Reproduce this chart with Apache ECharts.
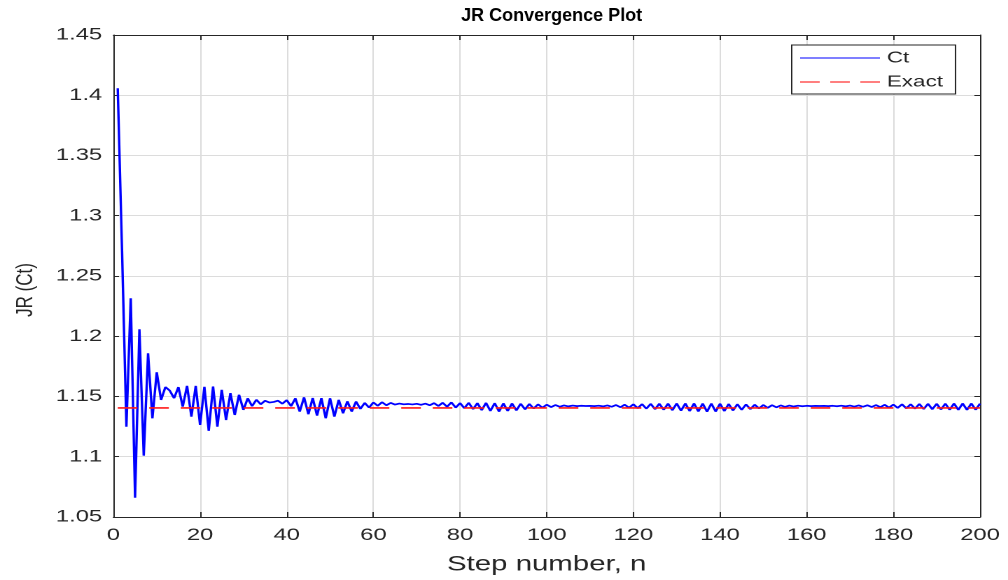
<!DOCTYPE html>
<html>
<head>
<meta charset="utf-8">
<title>JR Convergence Plot</title>
<script src="https://cdn.jsdelivr.net/npm/echarts@6/dist/echarts.min.js"></script>
<style>
  html, body { margin: 0; padding: 0; background: #fff; overflow: hidden; }
  /* the reference is stretched sideways, so the chart is drawn narrower and widened */
  #chart { width: 720px; height: 580px; transform: scaleX(1.4); transform-origin: 0 0; }
</style>
</head>
<body>
<div id="chart"></div>
<script>
const firstStep = 1
const xTicks = { min: 0, max: 200, step: 20 }
const yTicks = { min: 1.05, max: 1.45, step: 0.05 }

// JR (Ct) per step, n = 1..200
const ctValues = [
  1.4058, 1.2700, 1.1249, 1.2315, 1.0660, 1.2058, 1.1009, 1.1859, 1.1319, 1.1701,
  1.1472, 1.1578, 1.1549, 1.1486, 1.1578, 1.1416, 1.1588, 1.1333, 1.1588, 1.1264,
  1.1580, 1.1215, 1.1583, 1.1250, 1.1555, 1.1305, 1.1528, 1.1347, 1.1514, 1.1389,
  1.1485, 1.1420, 1.1473, 1.1435, 1.1465, 1.1450, 1.1455, 1.1465, 1.1440, 1.1470,
  1.1420, 1.1485, 1.1375, 1.1493, 1.1353, 1.1487, 1.1341, 1.1486, 1.1320, 1.1485,
  1.1333, 1.1472, 1.1361, 1.1460, 1.1375, 1.1458, 1.1397, 1.1447, 1.1408, 1.1451,
  1.1423, 1.1453, 1.1427, 1.1447, 1.1433, 1.1441, 1.1435, 1.1438, 1.1434, 1.1439,
  1.1431, 1.1441, 1.1427, 1.1445, 1.1421, 1.1448, 1.1415, 1.1451, 1.1408, 1.1445,
  1.1403, 1.1448, 1.1395, 1.1445, 1.1387, 1.1447, 1.1380, 1.1445, 1.1375, 1.1443,
  1.1380, 1.1442, 1.1385, 1.1440, 1.1393, 1.1438, 1.1400, 1.1435, 1.1407, 1.1432,
  1.1412, 1.1429, 1.1415, 1.1426, 1.1418, 1.1425, 1.1420, 1.1423, 1.1421, 1.1422,
  1.1420, 1.1424, 1.1418, 1.1426, 1.1415, 1.1429, 1.1411, 1.1432, 1.1407, 1.1435,
  1.1403, 1.1437, 1.1399, 1.1439, 1.1395, 1.1440, 1.1390, 1.1441, 1.1386, 1.1442,
  1.1382, 1.1442, 1.1379, 1.1442, 1.1376, 1.1441, 1.1374, 1.1441, 1.1375, 1.1440,
  1.1379, 1.1438, 1.1384, 1.1436, 1.1389, 1.1434, 1.1395, 1.1432, 1.1401, 1.1430,
  1.1406, 1.1428, 1.1410, 1.1426, 1.1414, 1.1425, 1.1417, 1.1424, 1.1419, 1.1423,
  1.1420, 1.1422, 1.1421, 1.1422, 1.1420, 1.1423, 1.1419, 1.1424, 1.1418, 1.1425,
  1.1416, 1.1426, 1.1415, 1.1427, 1.1413, 1.1429, 1.1411, 1.1431, 1.1408, 1.1433,
  1.1405, 1.1435, 1.1402, 1.1436, 1.1399, 1.1438, 1.1396, 1.1439, 1.1394, 1.1440,
  1.1392, 1.1441, 1.1390, 1.1442, 1.1389, 1.1442, 1.1389, 1.1442, 1.1390, 1.1441
]

// exact reference value, drawn across the same steps
const exactSteps = [1, 200]
const exactValues = [1.1405, 1.1405]

const stretch = 1.4
const font = 'Liberation Sans, Arial, Helvetica, sans-serif'
const ink = '#262626'

// legend swatches: a solid stroke and three dashes
const solidIcon = 'path://M0,0h57v1h-57z'
const dashIcon = 'path://M0,0h14v1h-14zM21.5,0h14v1h-14zM43,0h14v1h-14z'

const chart = echarts.init(document.getElementById('chart'), null, { devicePixelRatio: 2 })

const frameAxis = (extra) => ({
  type: 'value',
  axisLine: { show: true, onZero: false, lineStyle: { color: ink, width: 1 } },
  axisTick: { show: true, inside: true, length: 5, lineStyle: { color: ink } },
  ...extra,
})

chart.setOption({
  animation: false,
  backgroundColor: '#fff',
  // the title is not widened in the reference, so undo the page stretch on it
  graphic: [
    {
      type: 'text',
      x: 394,
      y: 16,
      scaleX: 1 / stretch,
      style: {
        text: 'JR Convergence Plot',
        font: 'bold 18px Liberation Sans, Arial, sans-serif',
        fill: '#000',
        align: 'center',
        verticalAlign: 'middle',
      },
    },
  ],
  legend: {
    orient: 'vertical',
    left: 565.5,
    top: 45,
    data: [
      { name: 'Ct', icon: solidIcon },
      { name: 'Exact', icon: dashIcon },
    ],
    itemWidth: 57,
    itemHeight: 1.4,
    itemGap: 8,
    padding: [5, 9, 4, 6],
    backgroundColor: '#fff',
    borderColor: ink,
    borderWidth: 1,
    borderRadius: 0,
    textStyle: { fontFamily: font, fontSize: 16, color: ink },
  },
  grid: { left: 81, right: 20, top: 35, bottom: 63, containLabel: false },
  xAxis: [
    frameAxis({
      position: 'bottom',
      min: xTicks.min,
      max: xTicks.max,
      interval: xTicks.step,
      name: 'Step number, n',
      nameLocation: 'middle',
      nameGap: 37,
      nameTextStyle: { fontFamily: font, fontSize: 21, color: ink },
      axisLabel: { margin: 10, fontFamily: font, fontSize: 17, color: ink, showMinLabel: true, showMaxLabel: true },
      splitLine: { show: true, lineStyle: { color: '#dcdcdc', width: 1 } },
    }),
    frameAxis({
      position: 'top',
      min: xTicks.min,
      max: xTicks.max,
      interval: xTicks.step,
      axisLabel: { show: false },
      splitLine: { show: false },
    }),
  ],
  yAxis: [
    frameAxis({
      position: 'left',
      min: yTicks.min,
      max: yTicks.max,
      interval: yTicks.step,
      name: 'JR (Ct)',
      nameLocation: 'middle',
      nameGap: 54,
      nameRotate: 90,
      nameTextStyle: { fontFamily: font, fontSize: 17, color: ink, padding: [0, 28, 0, 0] },
      axisTick: { show: true, inside: true, length: 4, lineStyle: { color: ink } },
      axisLabel: { margin: 8, fontFamily: font, fontSize: 17, color: ink, showMinLabel: true, showMaxLabel: true },
      splitLine: { show: true, lineStyle: { color: '#dcdcdc', width: 1 } },
    }),
    frameAxis({
      position: 'right',
      min: yTicks.min,
      max: yTicks.max,
      interval: yTicks.step,
      axisTick: { show: true, inside: true, length: 4, lineStyle: { color: ink } },
      axisLabel: { show: false },
      splitLine: { show: false },
    }),
  ],
  series: [
    {
      name: 'Ct',
      type: 'line',
      symbol: 'none',
      showSymbol: false,
      data: ctValues.map((v, i) => [firstStep + i, v]),
      lineStyle: { color: '#0000ff', width: 1.7 },
      itemStyle: { color: '#0000ff' },
      z: 2,
    },
    {
      name: 'Exact',
      type: 'line',
      symbol: 'none',
      showSymbol: false,
      data: exactSteps.map((x, i) => [x, exactValues[i]]),
      lineStyle: { color: '#ff1a1a', width: 1.6, type: [14, 8.5] },
      itemStyle: { color: '#ff0000' },
      z: 3,
    },
  ],
})
</script>
</body>
</html>
